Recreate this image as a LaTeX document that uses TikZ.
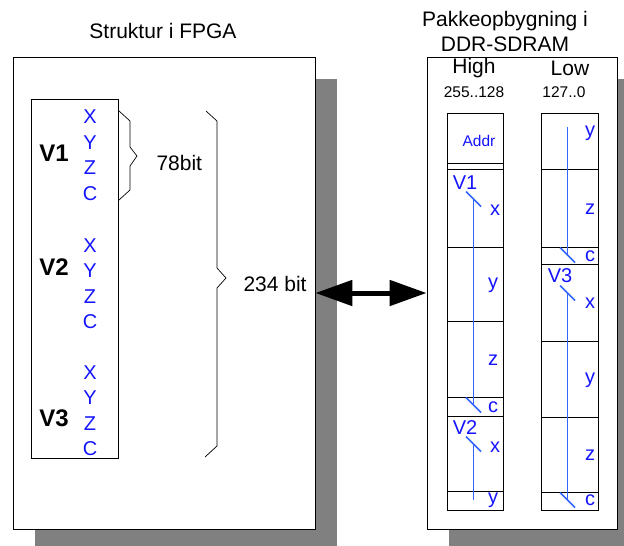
\documentclass[tikz,border=0pt]{standalone}
\usepackage{fontspec}
\setmainfont{Liberation Sans}
\usetikzlibrary{arrows.meta,shadows}
\definecolor{blaatekst}{RGB}{20,20,255}
\definecolor{blaalinje}{RGB}{50,100,255}
\newcommand{\skrift}[2]{\fontsize{#1}{#2}\selectfont}
\newcommand{\hak}[1]{\draw[streg] ([shift={(-7.5,-7.5)}]#1) -- ++(15,15);}
\begin{document}
\begin{tikzpicture}[x=1pt, y=-1pt, every node/.style={font=\skrift{21}{25}},
    boks/.style={draw, line width=0.8pt, fill=white, inner sep=0pt, minimum height=472pt,
      drop shadow={shadow xshift=22pt, shadow yshift=-22pt, fill=black!50, opacity=1}},
    celle/.style={draw, line width=0.8pt, minimum width=56pt, inner sep=0pt},
    blaa/.style={text=blaatekst, font=\skrift{20}{24}, inner sep=0pt},
    klamme/.style={line width=0.7pt},
    streg/.style={color=blaalinje, line width=1.5pt},
    pil/.style={line width=5pt, {Triangle[length=37pt,width=25pt]}-{Triangle[length=37pt,width=25pt]}}]
  \useasboundingbox (0,0) rectangle (624,546);
  % Overskrifter
  \node (titelA) at (163,31) {Struktur i FPGA};
  \node[align=center] (titelB) at (505,31) {Pakkeopbygning i\\DDR-SDRAM};
  % De to kasser med skygge
  \node[boks, minimum width=302pt] (fpga) at (164,293) {};
  \node[boks, minimum width=190pt] (ddr) at (522,293) {};
  \draw[pil] (fpga) -- (ddr);
  % Vektorer i FPGA
  \node[draw, line width=0.8pt, minimum width=87pt, minimum height=359pt, inner sep=0pt] (vektor) at (74.5,278.5) {};
  \foreach \v/\y in {1/153, 2/267, 3/418}
    \node[font=\bfseries\skrift{24}{28}] (v\v) at (54,\y) {V\v};
  \foreach \v/\y in {1/117, 2/245.5, 3/372.5} {
    \foreach \k [count=\j from 0] in {X,Y,Z,C}
      \node[blaa] (\k\v) at (90,{\y+25.5*\j}) {\k};
  }
  % Klammer
  \draw[klamme] (119,111) -- (130,121) -- (130,147) -- (137,156) -- (130,166) -- (130,190) -- (119,200);
  \node[anchor=west] (b78) at (153,163) {78bit};
  \draw[klamme] (206,111) -- (217,121) -- (217,268) -- (226,278) -- (217,288) -- (217,446) -- (205,457);
  \node[anchor=west] (b234) at (240,284) {234 bit};
  % Kolonner High og Low
  \node (high) at (474,68) {High};
  \node (low) at (570,68) {Low};
  \node[font=\skrift{15.5}{18}] (hbit) at (474,92) {255..128};
  \node[font=\skrift{15.5}{18}] (lbit) at (564,92) {127..0};
  \foreach \ya/\yb [count=\i] in {113/163,163/169,169/247,247/321,321/397,397/416,416/491,491/510}
    \node[celle, minimum height={(\yb-\ya)*1pt}] (h\i) at (475,{(\ya+\yb)/2}) {};
  \foreach \ya/\yb [count=\i] in {113/169,169/247,247/264,264/341,341/417,417/492,492/510}
    \node[celle, minimum width=57pt, minimum height={(\yb-\ya)*1pt}] (l\i) at (569.5,{(\ya+\yb)/2}) {};
  % Tekster i High
  \node[blaa, font=\skrift{15.5}{18}] (addr) at (479,141) {Addr};
  \foreach \t/\x/\y in {V1/465/183, x/495/210, y/493/285, z/493/360, c/493/407, V2/465/428, x/495/447, y/493/500}
    \node[blaa] at (\x,\y) {\t};
  % Tekster i Low
  \foreach \t/\x/\y in {y/590/133, z/590/209, c/590/256, V3/560/276, x/590/303, y/590/380, z/590/455, c/590/500}
    \node[blaa] at (\x,\y) {\t};
  % Blaa streger
  \coordinate (a1) at (473.5,199);
  \coordinate (a2) at (473.5,405);
  \coordinate (a3) at (473.5,444);
  \coordinate (a4) at (473.5,500);
  \coordinate (b1) at (567.5,127);
  \coordinate (b2) at (567.5,255);
  \coordinate (b3) at (567.5,293);
  \coordinate (b4) at (567.5,500);
  \draw[streg] (a1) -- (a2);
  \draw[streg] (a3) -- (a4);
  \draw[streg] (b1) -- (b2);
  \draw[streg] (b3) -- (b4);
  \foreach \p in {a1,a2,a3,b2,b3,b4} {
    \hak{\p}
  }
\end{tikzpicture}
\end{document}
